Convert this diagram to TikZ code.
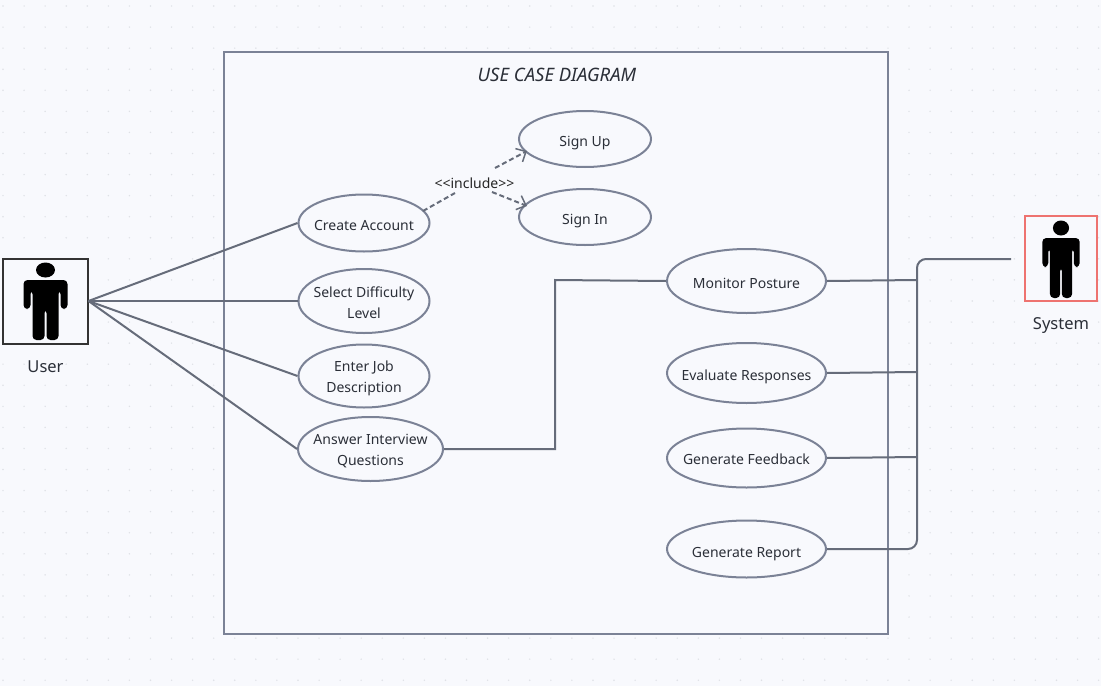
\documentclass[tikz,border=0pt]{standalone}
\usepackage{fontspec}
\setmainfont{Noto Sans}
\usetikzlibrary{arrows.meta,shapes.geometric}
\definecolor{bgcol}{HTML}{F8F9FD}
\definecolor{dotcol}{HTML}{DFE1E6}
\definecolor{linecol}{HTML}{666C7A}
\definecolor{framecol}{HTML}{7B8296}
\definecolor{redcol}{HTML}{EE7370}
\definecolor{textcol}{HTML}{2B2F38}
% human figure, drawn around the current origin
\newcommand{\manfigure}{%
    \fill (0,-31) ellipse (9.5 and 7.5);
    \fill[rounded corners=4pt] (-22,-21) -- (22,-21) -- (22,8) -- (15,8) -- (15,-11) -- (13,-11) -- (13,39) -- (1,39) -- (1,8) -- (-1,8) -- (-1,39) -- (-13,39) -- (-13,-11) -- (-15,-11) -- (-15,8) -- (-22,8) -- cycle;
}
\begin{document}
\begin{tikzpicture}[
        x=1pt, y=-1pt,
        usecase/.style={ellipse, draw=framecol, line width=2pt, fill=bgcol, inner xsep=-50pt, inner ysep=-10pt, text height=16pt, align=center, text=textcol, font=\fontsize{14}{21}\selectfont},
        twoline/.style={usecase, text height=36pt},
        actorbox/.style={draw, line width=2pt, inner sep=0pt, fill=bgcol},
        assoc/.style={draw=linecol, line width=2pt},
        incl/.style={draw=linecol, line width=2pt, dash pattern=on 5pt off 3pt},
        caption/.style={text=textcol, font=\fontsize{16.5}{20}\selectfont},
    ]
    \useasboundingbox (0,0) rectangle (1106,696);
    \fill[white] (0,0) rectangle (1106,696);
    \fill[bgcol] (0,0) rectangle (1101,686);

    % dots of the canvas
    \foreach \i in {0,...,52} {
        \foreach \j in {0,...,32} {
            \fill[dotcol] (3+21.07*\i,6+21.07*\j) circle (0.8);
        }
    }

    % system boundary
    \node[draw=framecol, line width=2pt, fill=bgcol, minimum width=664pt, minimum height=582pt, anchor=north west] (frame) at (223,51) {};
    \node[font=\fontsize{18.5}{22}\itshape\selectfont, text=textcol] (title) at (557,75) {USE CASE DIAGRAM};

    % actors
    \node[actorbox, draw=black!80, minimum width=85pt, minimum height=85pt] (user) at (45,301) {};
    \node[caption] (userlabel) at (45.5,367) {User};
    \node[actorbox, draw=redcol, minimum width=72pt, minimum height=85pt] (system) at (1061,258.5) {};
    \node[caption] (systemlabel) at (1061,326) {System};
    \begin{scope}[shift={(45.5,301)}] \manfigure \end{scope}
    \begin{scope}[shift={(1061,259)}, xscale=0.85] \manfigure \end{scope}

    % use cases
    \node[usecase, minimum width=131pt, minimum height=57pt] (create) at (364,223) {Create Account};
    \node[twoline, minimum width=131pt, minimum height=64pt] (difficulty) at (364,301) {Select Difficulty\\Level};
    \node[twoline, minimum width=131pt, minimum height=63pt] (job) at (364,376) {Enter Job\\Description};
    \node[twoline, minimum width=145pt, minimum height=64pt] (answer) at (370.5,449) {Answer Interview\\Questions};
    \node[usecase, text height=18pt, minimum width=132pt, minimum height=56pt] (signup) at (585,139) {Sign Up};
    \node[usecase, text height=18pt, minimum width=132pt, minimum height=56pt] (signin) at (585,217) {Sign In};
    \node[usecase, minimum width=159pt, minimum height=64pt] (monitor) at (746.5,281) {Monitor Posture};
    \node[usecase, text height=18pt, minimum width=159pt, minimum height=60pt] (evaluate) at (746.5,373) {Evaluate Responses};
    \node[usecase, text height=14pt, minimum width=159pt, minimum height=59pt] (feedback) at (746.5,458) {Generate Feedback};
    \node[usecase, text height=20pt, minimum width=159pt, minimum height=57pt] (report) at (746.5,549) {Generate Report};

    % include relation
    \node[font=\fontsize{14}{16}\selectfont, text=black!85, inner sep=2pt] (include) at (474.5,183.5) {<{}<include>{}>};
    \coordinate (inclA) at (455,193);
    \coordinate (inclB) at (495,168);
    \coordinate (inclC) at (492,192);
    \coordinate (inclD) at (423,211);
    \coordinate (inclE) at (527,151);
    \coordinate (inclF) at (527,206);
    \draw[incl] (inclD) -- (inclA);
    \draw[incl, -{Straight Barb[length=8pt, width=15pt, line width=1.5pt]}] (inclB) -- (inclE);
    \draw[incl, -{Straight Barb[length=8pt, width=15pt, line width=1.5pt]}] (inclC) -- (inclF);

    % associations of the user
    \draw[assoc] (user.east) -- (create.west);
    \draw[assoc] (user.east) -- (difficulty.west);
    \draw[assoc] (user.east) -- (job.west);
    \draw[assoc] (user.east) -- (answer.west);

    % answer to monitor
    \draw[assoc] (answer.east) -- (555,449) -- (555,280) -- (monitor.west);

    % associations of the system
    \coordinate (busend) at (1011,259);
    \coordinate (bustop) at (917,259);
    \coordinate (busbot) at (917,549);
    \draw[assoc] (monitor.east) -- (917,280);
    \draw[assoc] (evaluate.east) -- (917,372);
    \draw[assoc] (feedback.east) -- (917,457);
    \draw[assoc, rounded corners=9pt] (busend) -- (bustop) -- (busbot) -- (report.east);
\end{tikzpicture}
\end{document}
